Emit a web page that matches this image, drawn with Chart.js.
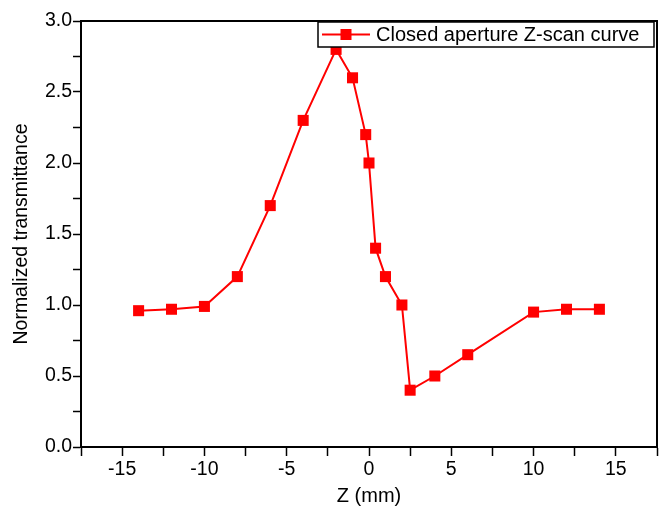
<!DOCTYPE html>
<html>
<head>
<meta charset="utf-8">
<script src="https://cdn.jsdelivr.net/npm/chart.js@4.4.0/dist/chart.umd.min.js"></script>
<style>
  html, body { margin: 0; padding: 0; background: #fff; }
  #wrap { width: 659px; height: 508px; }
</style>
</head>
<body>
<div id="wrap"><canvas id="zscanChart" width="659" height="508"></canvas></div>
<script>
// data
var zValues = [-14, -12, -10, -8, -6, -4, -2, -1, -0.2, 0, 0.4, 1, 2, 2.5, 4, 6, 10, 12, 14];
var transmittance = [0.96, 0.97, 0.99, 1.2, 1.7, 2.3, 2.8, 2.6, 2.2, 2.0, 1.4, 1.2, 1.0, 0.4, 0.5, 0.65, 0.95, 0.97, 0.97];
var xTickLabels = [-15, -10, -5, 0, 5, 10, 15];
var yTickLabels = [0.0, 0.5, 1.0, 1.5, 2.0, 2.5, 3.0];
var seriesLabel = 'Closed aperture Z-scan curve';

var FONT = "'Liberation Sans', Arial, sans-serif";
var RED = '#ff0000';

// frame around the plot + legend box in the top right corner
var frameAndLegend = {
    id: 'frameAndLegend',
    afterDraw: (chart) => {
        var ctx = chart.ctx, a = chart.chartArea;
        ctx.save();
        ctx.strokeStyle = '#000';
        ctx.lineWidth = 2;
        ctx.strokeRect(a.left, a.top, a.right - a.left, a.bottom - a.top);

        // legend
        var bx = 318, by = a.top + 1, bw = a.right - 3 - bx, bh = 25;
        ctx.fillStyle = '#fff';
        ctx.fillRect(bx, by, bw, bh);
        ctx.lineWidth = 1.5;
        ctx.strokeRect(bx, by, bw, bh);
        var cy = by + bh / 2;
        ctx.strokeStyle = RED;
        ctx.lineWidth = 2;
        ctx.beginPath();
        ctx.moveTo(bx + 4, cy);
        ctx.lineTo(bx + 52, cy);
        ctx.stroke();
        ctx.fillStyle = RED;
        ctx.fillRect(bx + 28 - 5.5, cy - 5.5, 11, 11);
        ctx.fillStyle = '#000';
        ctx.font = '20px ' + FONT;
        ctx.textBaseline = 'middle';
        ctx.fillText(seriesLabel, bx + 58, cy + 1);
        ctx.restore();
    }
};

var ctx = document.getElementById('zscanChart');
new Chart(ctx, {
    type: 'line',
    data: {
        datasets: [{
            label: seriesLabel,
            data: zValues.map((z, i) => ({ x: z, y: transmittance[i] })),
            borderColor: RED,
            backgroundColor: RED,
            borderWidth: 2,
            tension: 0,
            pointStyle: 'rect',
            pointRadius: 7.8,
            pointBorderWidth: 0,
            pointBackgroundColor: RED
        }]
    },
    options: {
        responsive: false,
        animation: false,
        layout: { autoPadding: false, padding: { top: 21, right: 2, left: 0, bottom: 0 } },
        scales: {
            x: {
                type: 'linear',
                min: -17.5,
                max: 17.5,
                afterBuildTicks: (scale) => {
                    var t = [];
                    for (var v = -17.5; v <= 17.5; v += 2.5) t.push({ value: v });
                    scale.ticks = t;
                },
                afterFit: (scale) => {
                    scale.height = 61;
                    scale.paddingLeft = 0;
                    scale.paddingRight = 0;
                },
                ticks: {
                    autoSkip: false,
                    maxRotation: 0,
                    padding: 2,
                    color: '#000',
                    font: { family: FONT, size: 19.5 },
                    callback: (v) => xTickLabels.indexOf(v) >= 0 ? String(v) : ''
                },
                grid: {
                    drawOnChartArea: false,
                    tickLength: 9,
                    tickWidth: 1.5,
                    tickColor: '#000'
                },
                border: { color: '#000', width: 2 },
                title: {
                    display: true,
                    text: 'Z (mm)',
                    color: '#000',
                    font: { family: FONT, size: 20 },
                    padding: { top: 12, bottom: 0 }
                }
            },
            y: {
                min: 0,
                max: 3,
                afterBuildTicks: (scale) => {
                    var t = [];
                    for (var v = 0; v <= 3.0001; v += 0.25) t.push({ value: Math.round(v * 100) / 100 });
                    scale.ticks = t;
                },
                afterFit: (scale) => { scale.width = 81; },
                ticks: {
                    autoSkip: false,
                    padding: 1,
                    color: '#000',
                    font: { family: FONT, size: 19.5 },
                    callback: (v) => yTickLabels.indexOf(v) >= 0 ? v.toFixed(1) : ''
                },
                grid: {
                    drawOnChartArea: false,
                    tickLength: 8,
                    tickWidth: 1.5,
                    tickColor: '#000'
                },
                border: { color: '#000', width: 2 },
                title: {
                    display: true,
                    text: 'Normalized transmittance',
                    color: '#000',
                    font: { family: FONT, size: 19.5 },
                    padding: { top: 10, bottom: 0 }
                }
            }
        },
        plugins: {
            legend: { display: false },
            tooltip: { enabled: false }
        }
    },
    plugins: [frameAndLegend]
});
</script>
</body>
</html>
